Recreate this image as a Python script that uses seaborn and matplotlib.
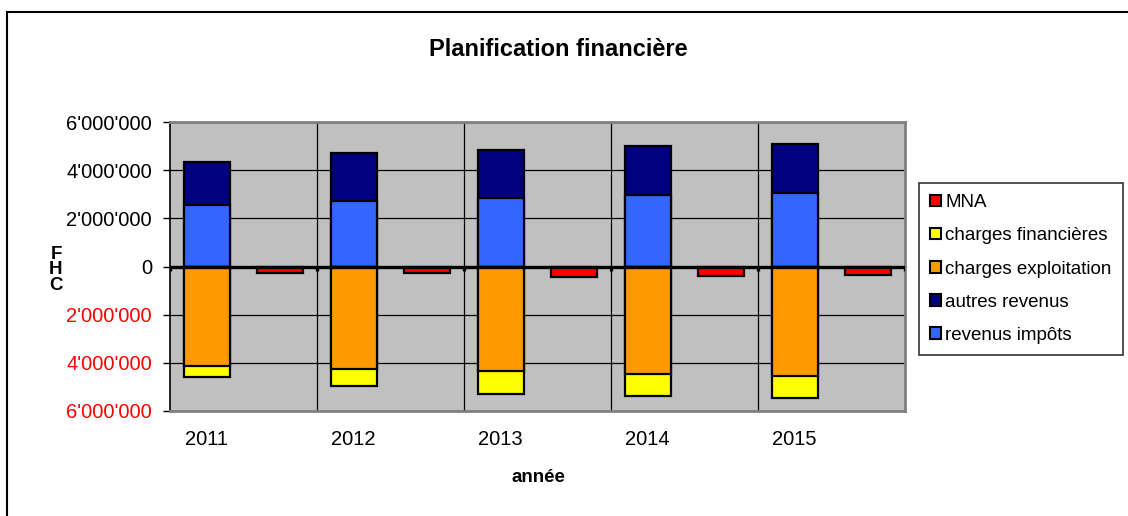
import matplotlib
matplotlib.use("Agg")
import matplotlib.pyplot as plt
from matplotlib.patches import Patch, Rectangle
import numpy as np
import pandas as pd
import seaborn as sns

# data (CHF)
annees = ["2011", "2012", "2013", "2014", "2015"]
revenus_impots = [2560000, 2740000, 2850000, 2950000, 3060000]
autres_revenus = [1770000, 1980000, 2000000, 2050000, 2040000]
charges_exploitation = [-4150000, -4260000, -4340000, -4450000, -4550000]
charges_financieres = [-440000, -720000, -940000, -930000, -910000]
mna = [-260000, -260000, -430000, -380000, -360000]

COLORS = {
    "MNA": "#FF0000",
    "charges financières": "#FFFF00",
    "charges exploitation": "#FF9900",
    "autres revenus": "#000080",
    "revenus impôts": "#3366FF",
}

sns.set_style("white")
plt.rcParams["font.family"] = ["Liberation Sans", "DejaVu Sans"]
plt.rcParams.update({"text.color": "black", "xtick.color": "black",
                     "ytick.color": "black", "axes.labelcolor": "black"})

fig = plt.figure(figsize=(11.28, 5.16), dpi=100)
ax = fig.add_axes([170 / 1128, 1 - 411 / 516, 735 / 1128, 289 / 516])
ax.set_facecolor("#C0C0C0")

groups = ["pile", "MNA"]


def layer(values, color, group="pile"):
    df = pd.DataFrame({"annee": annees, "valeur": values, "groupe": group})
    sns.barplot(data=df, x="annee", y="valeur", hue="groupe", hue_order=groups,
                palette={"pile": color, "MNA": COLORS["MNA"]}, order=annees,
                width=1.0, gap=0.38, dodge=True, errorbar=None, legend=False,
                saturation=1, edgecolor="black", linewidth=1.6, zorder=2, ax=ax)


# stacked by overplotting: cumulated totals first
total_rev = np.add(revenus_impots, autres_revenus)
total_ch = np.add(charges_exploitation, charges_financieres)
layer(total_rev, COLORS["autres revenus"])
layer(revenus_impots, COLORS["revenus impôts"])
layer(total_ch, COLORS["charges financières"])
layer(charges_exploitation, COLORS["charges exploitation"])
layer(mna, COLORS["MNA"], group="MNA")

n = len(annees)
ax.set_xlim(-0.5, n - 0.5)
ax.set_ylim(-6000000, 6000000)
yt = np.arange(-6000000, 6000001, 2000000)
ax.set_yticks(yt)
ax.set_yticklabels([f"{abs(v):,}".replace(",", "'") for v in yt], fontsize=14.5)
for lab, v in zip(ax.get_yticklabels(), yt):
    lab.set_color("red" if v < 0 else "black")
ax.tick_params(axis="y", direction="out", length=5, width=1, color="black", pad=8, left=True)

ax.set_xticks(np.arange(n) - 0.25)
ax.set_xticklabels(annees, fontsize=14.5)
ax.tick_params(axis="x", length=0, pad=14)
bounds = np.arange(n + 1) - 0.5
ax.set_xticks(bounds[1:-1], minor=True)
ax.tick_params(axis="x", which="minor", length=0)

ax.set_axisbelow(True)
ax.yaxis.grid(True, color="black", linewidth=0.9)
ax.xaxis.grid(True, which="minor", color="black", linewidth=0.9)
ax.xaxis.grid(False, which="major")

ax.axhline(0, color="black", linewidth=2.4, zorder=4)
ax.vlines(bounds, -180000, 0, color="black", linewidth=2.4, zorder=4)

for side in ["top", "right", "bottom"]:
    ax.spines[side].set_color("#808080")
    ax.spines[side].set_linewidth(2)
ax.spines["left"].set_color("black")
ax.spines["left"].set_linewidth(1.2)

ax.set_xlabel("")
ax.set_ylabel("")
fig.text(538 / 1128, 1 - 478 / 516, "année", ha="center", va="center",
         fontsize=13.5, fontweight="bold")
fig.text(56 / 1128, 1 - 270 / 516, "F\nH\nC", ha="center", va="center",
         fontsize=13.5, fontweight="bold", linespacing=0.85)
fig.text(558 / 1128, 1 - 49 / 516, "Planification financière", ha="center",
         va="center", fontsize=17, fontweight="bold")

order = ["MNA", "charges financières", "charges exploitation",
         "autres revenus", "revenus impôts"]
handles = [Patch(facecolor=COLORS[k], edgecolor="black", linewidth=1.5) for k in order]
leg = fig.legend(handles, order, loc="upper left",
                 bbox_to_anchor=(919 / 1128, 1 - 183 / 516), fontsize=13.5,
                 frameon=True, fancybox=False, shadow=False, edgecolor="black",
                 handlelength=0.55, handleheight=0.55, handletextpad=0.25,
                 labelspacing=0.86, borderpad=0.6, borderaxespad=0)
leg.get_frame().set_linewidth(1.2)

fig.add_artist(Rectangle((7 / 1128, -0.1), 1.2, 1.1 - 12 / 516, fill=False,
                         edgecolor="black", linewidth=1.5,
                         transform=fig.transFigure, clip_on=False))

fig.savefig("out.png", dpi=100)
